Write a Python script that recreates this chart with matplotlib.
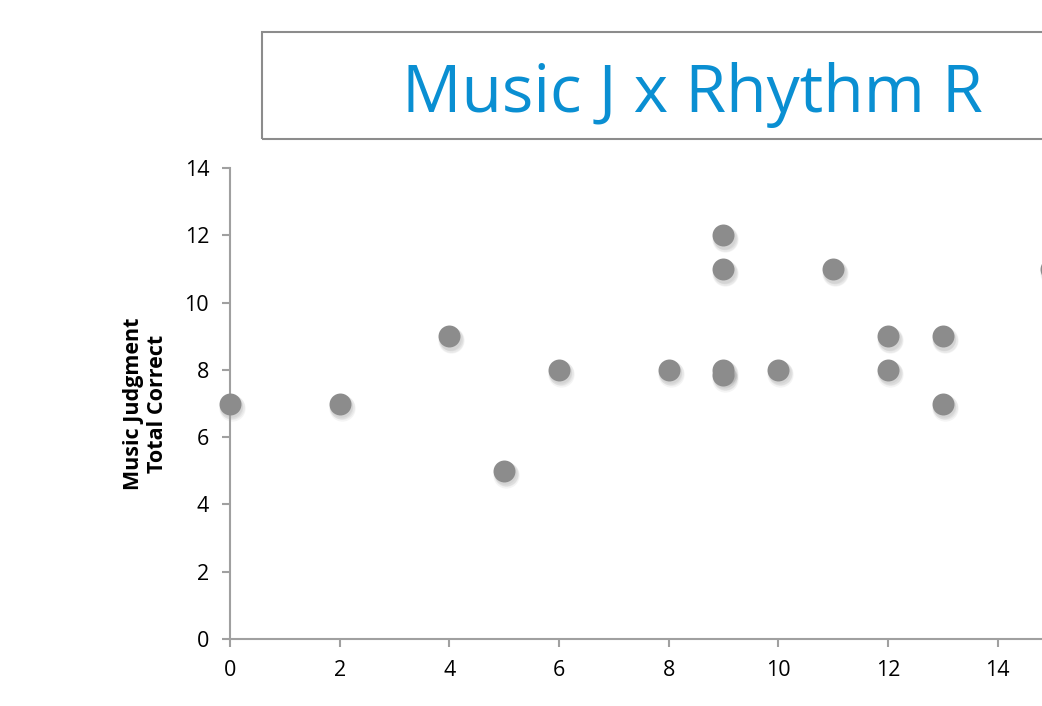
import numpy as np
import matplotlib.pyplot as plt
import matplotlib.transforms as mtransforms
from matplotlib.patches import Rectangle

# rhythm score vs music judgment total correct
rhythm = [0, 2, 4, 5, 6, 8, 9, 9, 9, 9, 10, 11, 12, 12, 13, 13, 14.98]
music_j = [7, 7, 9, 5, 8, 8, 12, 11, 8, 7.85, 8, 11, 9, 8, 9, 7, 11]

x_ticks = [0, 2, 4, 6, 8, 10, 12, 14]
y_ticks = [0, 2, 4, 6, 8, 10, 12, 14]

plt.rcParams['font.family'] = ['Open Sans', 'DejaVu Sans']

fig = plt.figure(figsize=(10.42, 7.06), dpi=100)
ax = fig.add_axes([0.2207, 0.0949, 0.8157, 0.667])

# blurry drop shadow under each marker
for dx, dy, s in [(2, -4, 360), (2, -3.5, 320), (1.5, -3, 290), (1, -2.5, 265)]:
    off = mtransforms.offset_copy(ax.transData, fig=fig, x=dx, y=dy, units='dots')
    ax.scatter(rhythm, music_j, s=s, color='black', alpha=0.045,
               linewidths=0, transform=off, zorder=2, clip_on=False)
ax.scatter(rhythm, music_j, s=250, color='#8c8c8c', linewidths=0, zorder=3, clip_on=False)

ax.set_xlim(0, 15.5)
ax.set_ylim(0, 14)
ax.set_xticks(x_ticks)
ax.set_yticks(y_ticks)
ax.tick_params(labelsize=15.5, colors='#a0a0a0', labelcolor='black', length=6, width=1.5, pad=9)
for side in ['top', 'right']:
    ax.spines[side].set_visible(False)
for side in ['left', 'bottom']:
    ax.spines[side].set_color('#a0a0a0')
    ax.spines[side].set_linewidth(1.5)

ax.set_ylabel('Music Judgment\nTotal Correct', fontsize=15.5, fontweight='bold',
              labelpad=12, linespacing=1.2)

# title box across the top
fig.patches.append(Rectangle((262 / 1042, 1 - 139 / 706), 0.8, 107 / 706,
                             transform=fig.transFigure, fill=False,
                             edgecolor='#8c8c8c', linewidth=1.5))
fig.text(692 / 1042, 1 - 95 / 706, 'Music J x Rhythm R', fontsize=47.5,
         color='#0a8fd2', ha='center', va='center')

plt.savefig('out.png', dpi=100)
